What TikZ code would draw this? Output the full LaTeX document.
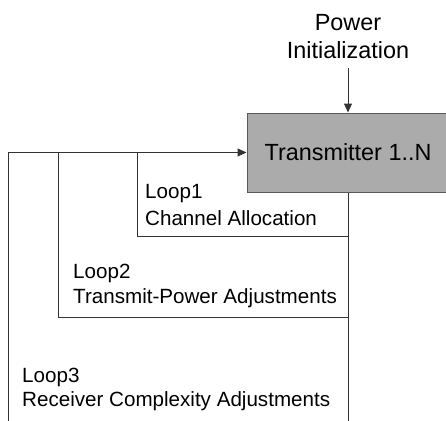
\documentclass[tikz,border=0pt]{standalone}
\usepackage{fontspec}
\setmainfont{Liberation Sans}
\usetikzlibrary{arrows.meta}
\tikzset{
	loopline/.style={draw=black!80, line width=1pt},
	looptip/.style={-{Triangle[length=9pt, width=8pt]}},
	looplabel/.style={anchor=base west, inner sep=0pt, font=\fontsize{20.6}{26}\selectfont},
	txbox/.style={draw=black!65, line width=1pt, fill=black!33, minimum width=208pt,
			minimum height=79pt, font=\fontsize{23.4}{28}\selectfont},
}
\begin{document}
\begin{tikzpicture}[x=1pt, y=-1pt]
		\clip (0,0) rectangle (446,420);
		\fill[white] (0,0) rectangle (446,420);
		\node[txbox] (tx) at (351,152.5) {\hspace*{-6pt}Transmitter 1..N};
		\node[anchor=south, align=center, inner xsep=0pt, inner ysep=9pt,
				font=\fontsize{23.4}{28}\selectfont] (power) at (348,68) {Power\\Initialization};
		\draw[loopline, looptip] (power.south) -- (power.south |- tx.north);
		% the three loops back to the transmitter
		\coordinate (down) at (348,421);
		\coordinate (l1) at (137,236);
		\coordinate (l2) at (58,317);
		\coordinate (l3) at (8,421);
		\draw[loopline] (power.south |- tx.south) -- (down);
		\draw[loopline] (down |- l1) -- (l1) -- (l1 |- tx.west);
		\draw[loopline] (down |- l2) -- (l2) -- (l2 |- tx.west);
		\draw[loopline, looptip] (l3) -- (l3 |- tx.west) -- (tx.west);
		\node[looplabel] (loop1) at (145,198) {Loop1};
		\node[looplabel] (chan) at (145,225) {Channel Allocation};
		\node[looplabel] (loop2) at (73,278) {Loop2};
		\node[looplabel] (pow) at (73,303) {Transmit-Power Adjustments};
		\node[looplabel] (loop3) at (22,382) {Loop3};
		\node[looplabel] (rcv) at (22,406) {Receiver Complexity Adjustments};
	\end{tikzpicture}
\end{document}
